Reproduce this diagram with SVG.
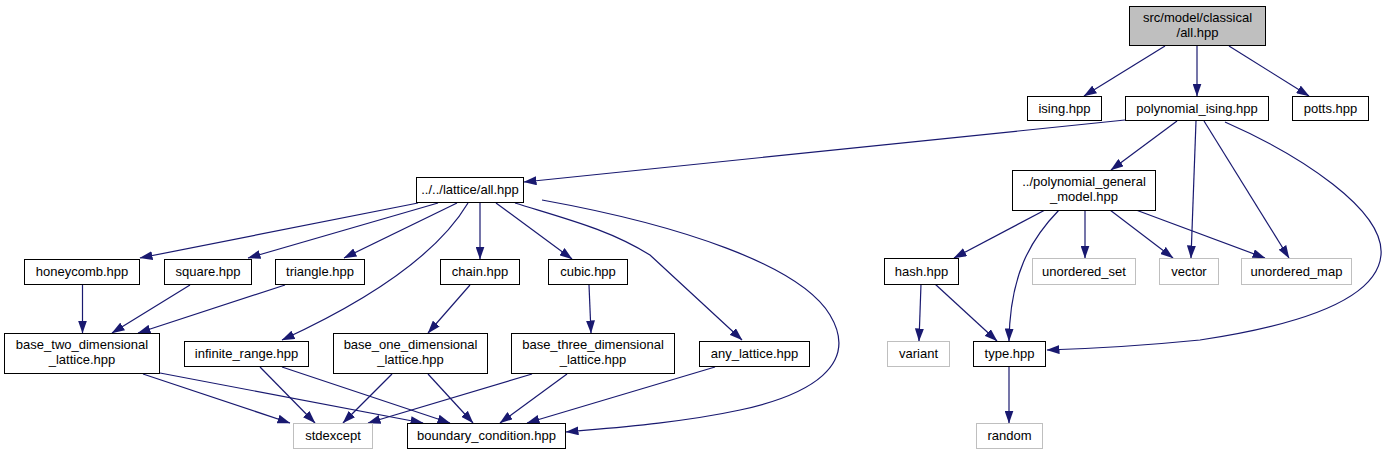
<svg xmlns="http://www.w3.org/2000/svg" width="1388" height="455" viewBox="0 0 1388 455">
<defs>
<style>
.n rect{fill:#ffffff;stroke:#000000;stroke-width:1}
.s rect{fill:#ffffff;stroke:#bfbfbf;stroke-width:1}
.r rect{fill:#bfbfbf;stroke:#000000;stroke-width:1}
text{font-family:"Liberation Sans",Arial,Helvetica,sans-serif;font-size:13px;text-anchor:middle;fill:#000000}
.e path{fill:none;stroke:#191970;stroke-width:1.2;marker-end:url(#a)}
</style>
<marker id="a" markerWidth="13" markerHeight="9" refX="12.5" refY="4.5" orient="auto" markerUnits="userSpaceOnUse">
<path d="M0,0 L13,4.5 L0,9 z" fill="#191970" stroke="none"/>
</marker>
</defs>
<rect width="1388" height="455" fill="#ffffff"/>
<g class="e" id="edges">
<path d="M1165,46 L1084,96"/>
<path d="M1197,46 L1197,96"/>
<path d="M1229,46 L1309,96"/>
<path d="M1125,120 L524,182"/>
<path d="M1177,121 L1111,170"/>
<path d="M1196,121 L1191,258"/>
<path d="M1204,121 L1289,258"/>
<path d="M1225,122 C1300,155 1385,210 1381,255 C1377,300 1300,325 1200,340 C1130,347 1080,349 1047,350"/>
<path d="M1045,210 L954,258"/>
<path d="M1085,210 L1085,258"/>
<path d="M1110,210 L1173,258"/>
<path d="M1136,210 L1265,258"/>
<path d="M1059,210 C1030,240 1010,275 1009,341"/>
<path d="M921,284 L919,341"/>
<path d="M935,284 L997,341"/>
<path d="M1009,367 L1009,423"/>
<path d="M418,203 L140,258"/>
<path d="M438,203 L248,258"/>
<path d="M457,203 L344,258"/>
<path d="M468,203 C440,250 380,295 282,340"/>
<path d="M480,203 L480,259"/>
<path d="M496,203 L572,259"/>
<path d="M515,203 C570,220 610,230 650,255 L742,340"/>
<path d="M542,200 C680,225 800,265 830,315 C860,365 810,395 740,410 C680,423 610,428 566,432"/>
<path d="M82.5,285 L82.5,333"/>
<path d="M190,285 L112,333"/>
<path d="M285,285 L138,333"/>
<path d="M470,285 L428,333"/>
<path d="M589,285 L591,333"/>
<path d="M143,374 L290,423"/>
<path d="M160,373 L423,423"/>
<path d="M260,367 L315,423"/>
<path d="M282,367 L450,423"/>
<path d="M392,374 L343,423"/>
<path d="M428,374 L473,423"/>
<path d="M532,374 L368,423"/>
<path d="M567,374 L500,423"/>
<path d="M715,367 L527,423"/>
</g>
<g class="r" id="root"><rect x="1129.5" y="6.5" width="136" height="39"/><text x="1197.5" y="22">src/model/classical</text><text x="1197.5" y="37">/all.hpp</text></g>
<g class="n" id="ising"><rect x="1027.5" y="96.5" width="74" height="24"/><text x="1064.5" y="113">ising.hpp</text></g>
<g class="n" id="polynomial_ising"><rect x="1125.5" y="96.5" width="143" height="24"/><text x="1197" y="113">polynomial_ising.hpp</text></g>
<g class="n" id="potts"><rect x="1292.5" y="96.5" width="76" height="24"/><text x="1330.5" y="113">potts.hpp</text></g>
<g class="n" id="lattice_all"><rect x="416.5" y="177.5" width="107" height="25"/><text x="470" y="194">../../lattice/all.hpp</text></g>
<g class="n" id="honeycomb"><rect x="24.5" y="259.5" width="115" height="25"/><text x="82" y="276">honeycomb.hpp</text></g>
<g class="n" id="square"><rect x="164.5" y="259.5" width="87" height="25"/><text x="208" y="276">square.hpp</text></g>
<g class="n" id="triangle"><rect x="275.5" y="259.5" width="89" height="25"/><text x="320" y="276">triangle.hpp</text></g>
<g class="n" id="chain"><rect x="440.5" y="259.5" width="79" height="25"/><text x="480" y="276">chain.hpp</text></g>
<g class="n" id="cubic"><rect x="548.5" y="259.5" width="79" height="25"/><text x="588" y="276">cubic.hpp</text></g>
<g class="n" id="base_two"><rect x="4.5" y="333.5" width="155" height="40"/><text x="82" y="349">base_two_dimensional</text><text x="82" y="364">_lattice.hpp</text></g>
<g class="n" id="infinite_range"><rect x="184.5" y="341.5" width="124" height="25"/><text x="246.5" y="358">infinite_range.hpp</text></g>
<g class="n" id="base_one"><rect x="333.5" y="333.5" width="154" height="40"/><text x="410.5" y="349">base_one_dimensional</text><text x="410.5" y="364">_lattice.hpp</text></g>
<g class="n" id="base_three"><rect x="511.5" y="333.5" width="163" height="40"/><text x="593" y="349">base_three_dimensional</text><text x="593" y="364">_lattice.hpp</text></g>
<g class="n" id="any_lattice"><rect x="699.5" y="341.5" width="110" height="25"/><text x="754.5" y="358">any_lattice.hpp</text></g>
<g class="s" id="stdexcept"><rect x="293.5" y="423.5" width="79" height="25"/><text x="333" y="440">stdexcept</text></g>
<g class="n" id="boundary_condition"><rect x="407.5" y="423.5" width="158" height="25"/><text x="486.5" y="440">boundary_condition.hpp</text></g>
<g class="n" id="polynomial_general_model"><rect x="1012.5" y="170.5" width="143" height="40"/><text x="1084" y="186">../polynomial_general</text><text x="1084" y="201">_model.hpp</text></g>
<g class="n" id="hash"><rect x="884.5" y="258.5" width="74" height="26"/><text x="921.5" y="276">hash.hpp</text></g>
<g class="s" id="unordered_set"><rect x="1032.5" y="258.5" width="103" height="26"/><text x="1084" y="276">unordered_set</text></g>
<g class="s" id="vector"><rect x="1159.5" y="258.5" width="59" height="26"/><text x="1189" y="276">vector</text></g>
<g class="s" id="unordered_map"><rect x="1241.5" y="258.5" width="110" height="26"/><text x="1296.5" y="276">unordered_map</text></g>
<g class="s" id="variant"><rect x="887.5" y="341.5" width="62" height="25"/><text x="918.5" y="358">variant</text></g>
<g class="n" id="type"><rect x="973.5" y="341.5" width="72" height="25"/><text x="1009.5" y="358">type.hpp</text></g>
<g class="s" id="random"><rect x="976.5" y="423.5" width="66" height="25"/><text x="1009.5" y="440">random</text></g>
</svg>
